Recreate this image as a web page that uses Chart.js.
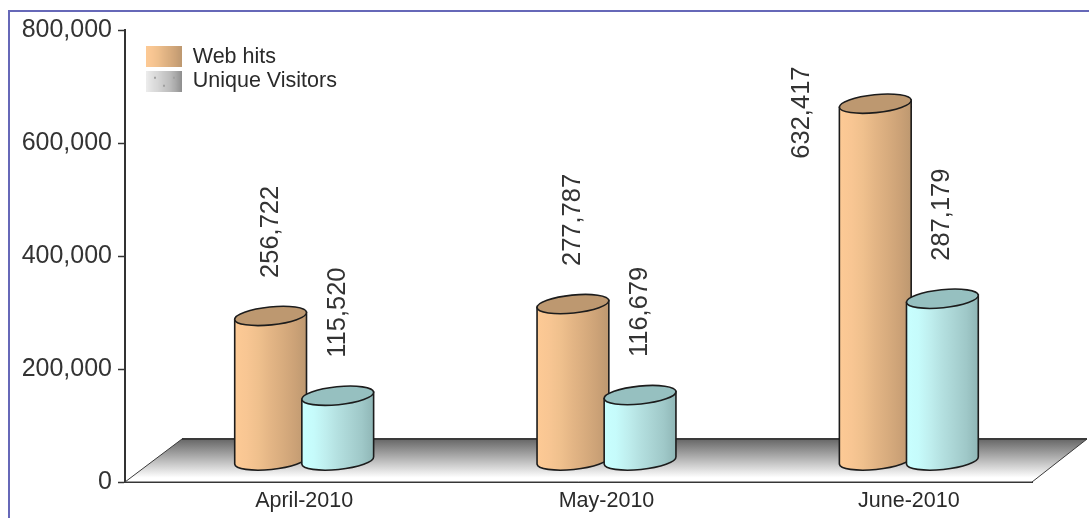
<!DOCTYPE html>
<html>
<head>
<meta charset="utf-8">
<title>Web hits and unique visitors</title>
<script src="https://cdn.jsdelivr.net/npm/chart.js@4/dist/chart.umd.js"></script>
<style>
  html, body { margin: 0; padding: 0; background: #fff; overflow: hidden; }
  #wrap { position: relative; width: 1089px; height: 518px; }
  #frame { position: absolute; left: 8px; top: 10px; right: 0; bottom: 0; border-left: 2px solid #6668b8; border-top: 2px solid #6668b8; }
  canvas { position: absolute; left: 0; top: 0; }
</style>
</head>
<body>
<div id="wrap">
  <div id="frame"></div>
  <canvas id="hitsCanvas" width="1089" height="518"></canvas>
</div>
<script>
const months = ['April-2010', 'May-2010', 'June-2010'];
const webHits = [256722, 277787, 632417];
const uniqueVisitors = [115520, 116679, 287179];
const yMax = 800000;
const yStep = 200000;

// how far the bars sit in from the axes, the floor has the same depth
const depthX = 28;
const depthY = 21;
const floorDepthX = 57;
const floorDepthY = 43;

const orangeBands = ['#fdca95', '#f8c693', '#efc08d', '#e3b585', '#d8ac7e', '#cca277', '#bd9870'];
const cyanBands = ['#c8ffff', '#c6fbfb', '#bfeeee', '#b4e0e0', '#aad4d4', '#9fc8c8', '#8fb6b6'];
const greyBands = ['#ededed', '#e0e0e0', '#d6d6d6', '#c8c8c8', '#bcbcbc', '#a8a8a8', '#8e8e8e'];

const bandGradient = (ctx, left, right, bands) => {
  const gradient = ctx.createLinearGradient(left, 0, right, 0);
  bands.forEach((color, i) => gradient.addColorStop(i / (bands.length - 1), color));
  return gradient;
};

const makeSwatch = (bands, specks) => {
  const swatch = document.createElement('canvas');
  swatch.width = 36;
  swatch.height = 21;
  const ctx = swatch.getContext('2d');
  ctx.fillStyle = bandGradient(ctx, 0, 36, bands);
  ctx.fillRect(0, 0, 36, 21);
  if (specks) {
    ctx.fillStyle = '#a0a0a0';
    ctx.fillRect(8, 6, 2, 2);
    ctx.fillRect(17, 14, 2, 2);
    ctx.fillRect(27, 6, 2, 2);
  }
  return swatch;
};

const drawCylinder = (ctx, bar, bands, topColor) => {
  const rx = bar.width / 2;
  const ry = 9;
  const tilt = -0.1;
  const cx = bar.x + depthX;
  const topY = bar.y - depthY;
  const baseY = bar.base - depthY;
  const edgeX = rx * Math.cos(tilt);
  const edgeY = rx * Math.sin(tilt);

  ctx.beginPath();
  ctx.moveTo(cx - edgeX, topY - edgeY);
  ctx.lineTo(cx - edgeX, baseY - edgeY);
  ctx.ellipse(cx, baseY, rx, ry, tilt, Math.PI, 0, true);
  ctx.lineTo(cx + edgeX, topY + edgeY);
  ctx.closePath();
  ctx.fillStyle = bandGradient(ctx, cx - rx, cx + rx, bands);
  ctx.fill();
  ctx.stroke();

  ctx.beginPath();
  ctx.ellipse(cx, topY, rx, ry, tilt, 0, Math.PI * 2);
  ctx.fillStyle = topColor;
  ctx.fill();
  ctx.stroke();
};

const drawValueLabel = (ctx, bar, value) => {
  const text = value.toLocaleString('en-US');
  const textWidth = ctx.measureText(text).width;
  let x = bar.x + depthX;
  let y = bar.y - depthY - 38;
  // no room above the bar, so the label goes beside it
  if (y - textWidth < 0) {
    x -= 73;
    y = bar.y - depthY + 55;
  }
  ctx.save();
  ctx.translate(x, y);
  ctx.rotate(-Math.PI / 2);
  ctx.fillText(text, 0, 0);
  ctx.restore();
};

const floorPlugin = {
  id: 'floor',
  beforeDatasetsDraw(chart) {
    const { ctx, chartArea } = chart;
    const { left, right, bottom } = chartArea;
    const top = bottom - floorDepthY;
    const gradient = ctx.createLinearGradient(0, top, 0, bottom);
    gradient.addColorStop(0, '#666666');
    gradient.addColorStop(0.9, '#ffffff');
    ctx.save();
    ctx.beginPath();
    ctx.moveTo(left, bottom);
    ctx.lineTo(left + floorDepthX, top);
    ctx.lineTo(right + floorDepthX - 2, top);
    ctx.lineTo(right, bottom);
    ctx.closePath();
    ctx.fillStyle = gradient;
    ctx.fill();
    ctx.strokeStyle = '#3a3a3a';
    ctx.lineWidth = 1;
    ctx.stroke();
    ctx.beginPath();
    ctx.moveTo(left + floorDepthX, top);
    ctx.lineTo(right + floorDepthX - 2, top);
    ctx.lineWidth = 2;
    ctx.stroke();
    ctx.restore();
  }
};

const cylinderPlugin = {
  id: 'cylinders',
  afterDatasetsDraw(chart) {
    const { ctx } = chart;
    ctx.save();
    ctx.strokeStyle = '#1c1c1c';
    ctx.lineWidth = 1.6;
    chart.data.datasets.forEach((dataset, i) => {
      chart.getDatasetMeta(i).data.forEach((bar) => {
        drawCylinder(ctx, bar, dataset.bands, dataset.topColor);
      });
    });
    ctx.font = '25.5px "Liberation Sans"';
    ctx.fillStyle = '#333333';
    ctx.textAlign = 'left';
    ctx.textBaseline = 'middle';
    chart.data.datasets.forEach((dataset, i) => {
      chart.getDatasetMeta(i).data.forEach((bar, j) => {
        drawValueLabel(ctx, bar, dataset.data[j]);
      });
    });
    ctx.restore();
  }
};

// the legend sits in the plot, further in than labels.padding would put it
const legendPlugin = {
  id: 'legendNudge',
  afterLayout(chart) {
    chart.legend.left += 18;
    chart.legend.top += 43;
  }
};

new Chart(document.querySelector('#hitsCanvas').getContext('2d'), {
  type: 'bar',
  data: {
    labels: months,
    datasets: [
      {
        label: 'Web hits',
        data: webHits,
        backgroundColor: 'rgba(0, 0, 0, 0)',
        bands: orangeBands,
        topColor: '#bd9870',
        swatch: makeSwatch(orangeBands, false)
      },
      {
        label: 'Unique Visitors',
        data: uniqueVisitors,
        backgroundColor: 'rgba(0, 0, 0, 0)',
        bands: cyanBands,
        topColor: '#96c0c0',
        swatch: makeSwatch(greyBands, true)
      }
    ]
  },
  options: {
    responsive: false,
    animation: false,
    datasets: {
      bar: {
        categoryPercentage: 0.444,
        barPercentage: 1.075
      }
    },
    layout: {
      padding: { left: 0, top: 30, right: 57, bottom: 0 }
    },
    plugins: {
      tooltip: { enabled: false },
      legend: {
        display: true,
        position: 'chartArea',
        align: 'start',
        labels: {
          usePointStyle: true,
          pointStyleWidth: 36,
          padding: 3,
          color: '#2a2a2a',
          font: { family: '"Liberation Sans"', size: 21.5 },
          generateLabels: (chart) => chart.data.datasets.map((dataset, i) => ({
            text: dataset.label,
            pointStyle: dataset.swatch,
            fontColor: '#2a2a2a',
            lineWidth: 0,
            datasetIndex: i
          }))
        }
      }
    },
    scales: {
      x: {
        afterFit: (scale) => { scale.height = 36; },
        ticks: {
          color: '#2a2a2a',
          labelOffset: depthX,
          padding: -2,
          maxRotation: 0,
          font: { family: '"Liberation Sans"', size: 21.5 }
        },
        grid: { display: false },
        border: { color: '#333333', width: 2 }
      },
      y: {
        min: 0,
        max: yMax,
        afterFit: (scale) => { scale.width = 125; },
        ticks: {
          stepSize: yStep,
          color: '#333333',
          padding: 6,
          font: { family: '"Liberation Sans"', size: 25 },
          callback: (value) => value.toLocaleString('en-US')
        },
        grid: { drawOnChartArea: false, tickLength: 7, tickColor: '#333333', tickWidth: 1.5 },
        border: { color: '#333333', width: 2 }
      }
    }
  },
  plugins: [floorPlugin, cylinderPlugin, legendPlugin]
});
</script>
</body>
</html>
